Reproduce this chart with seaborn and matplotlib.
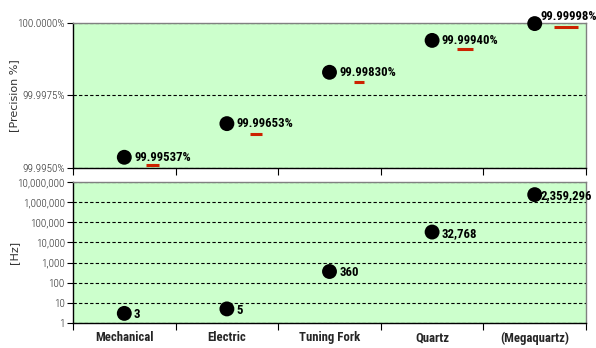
import matplotlib
matplotlib.use("Agg")
import matplotlib.pyplot as plt
import matplotlib.transforms as mtransforms
from matplotlib.ticker import FixedLocator, FuncFormatter
import seaborn as sns
import pandas as pd

sns.set_theme(style="white")
plt.rcParams["font.family"] = ["Roboto Condensed", "DejaVu Sans"]

categories = ["Mechanical", "Electric", "Tuning Fork", "Quartz", "(Megaquartz)"]
precision = [99.99537, 99.99653, 99.99830, 99.99940, 99.99998]
precision_labels = ["99.99537%", "99.99653%", "99.99830%", "99.99940%", "99.99998%"]
frequency = [3, 5, 360, 32768, 2359296]
frequency_labels = ["3", "5", "360", "32,768", "2,359,296"]
prec_ticks = [99.9950, 99.9975, 100.0000]
prec_tick_labels = ["99.9950%", "99.9975%", "100.0000%"]
hz_ticks = [1, 10, 100, 1000, 10000, 100000, 1000000, 10000000]
hz_tick_labels = ["1", "10", "100", "1,000", "10,000", "100,000", "1,000,000", "10,000,000"]

df = pd.DataFrame({"cat": categories, "prec": precision, "hz": frequency})

fig = plt.figure(figsize=(5.96, 3.48), dpi=100)
fig.patch.set_facecolor("white")
ax1 = fig.add_axes([73/596, 1-168/348, 513/596, 145/348])
ax2 = fig.add_axes([73/596, 1-323/348, 513/596, 141/348])

bg = "#CCFFCC"
n = len(categories)
for ax in (ax1, ax2):
    ax.set_facecolor(bg)
    ax.set_xlim(-0.5, n - 0.5)
    for s in ["left", "bottom"]:
        ax.spines[s].set_color("black")
        ax.spines[s].set_linewidth(1.0)
    for s in ["top", "right"]:
        ax.spines[s].set_color("#808080")
        ax.spines[s].set_linewidth(1.0)
    ax.xaxis.set_minor_locator(FixedLocator([i - 0.5 for i in range(n + 1)]))
    ax.tick_params(axis="x", which="minor", length=5, width=0.8, color="black", direction="out", bottom=True)
    ax.tick_params(axis="x", which="major", length=0)
    ax.tick_params(axis="y", which="major", length=4, width=0.8, color="black", direction="out", left=True,
                   labelsize=8, labelcolor="#2a2a2a", pad=2)
    ax.tick_params(axis="y", which="minor", length=0)

# top panel
sns.scatterplot(data=df, x="cat", y="prec", ax=ax1, color="black", s=115, edgecolor="none",
                clip_on=False, zorder=5, legend=False)
ax1.set_ylim(prec_ticks[0], prec_ticks[-1])
ax1.set_yticks(prec_ticks)
ax1.set_yticklabels(prec_tick_labels, fontweight=300)
ax1.yaxis.grid(True, linestyle=(0, (3, 2)), color="black", linewidth=0.8)
ax1.set_xticks(range(n))
ax1.set_xticklabels([])
ax1.set_xlabel("")
ax1.set_ylabel("[Precision %]", fontsize=8, labelpad=6, family=["DejaVu Sans"], color="#333333")

red_dx = [27.5, 29, 29, 33, 31]
red_dy = [-8, -10, -10, -9, -3]
red_len = [13, 12, 10, 16, 24]
for i, (v, lab) in enumerate(zip(precision, precision_labels)):
    if i == n - 1:
        ax1.annotate(lab, (i, v), xytext=(4, 5), textcoords="offset points", fontsize=9.2,
                     fontweight="bold", va="center", ha="left", annotation_clip=False, color="black")
    else:
        ax1.annotate(lab, (i, v), xytext=(7, 0), textcoords="offset points", fontsize=9.2,
                     fontweight="bold", va="center", ha="left", annotation_clip=False, color="black")
    tr = mtransforms.offset_copy(ax1.transData, fig=fig, x=red_dx[i] * 72 / 100, y=red_dy[i] * 72 / 100,
                                 units="points")
    ax1.plot([i], [v], marker="_", markersize=red_len[i] * 0.72, markeredgewidth=2.2,
             color="#CC2200", transform=tr, clip_on=False, zorder=6)

# bottom panel
sns.scatterplot(data=df, x="cat", y="hz", ax=ax2, color="black", s=115, edgecolor="none",
                clip_on=False, zorder=5, legend=False)
ax2.set_yscale("log")
ax2.set_ylim(hz_ticks[0], hz_ticks[-1])
ax2.yaxis.set_major_locator(FixedLocator(hz_ticks))
ax2.yaxis.set_major_formatter(FuncFormatter(lambda v, p: hz_tick_labels[hz_ticks.index(int(round(v)))]
                                            if int(round(v)) in hz_ticks else ""))
ax2.yaxis.set_minor_locator(FixedLocator([]))
ax2.yaxis.grid(True, linestyle=(0, (3, 2)), color="black", linewidth=0.8)
ax2.set_xticks(range(n))
ax2.set_xticklabels(categories, fontsize=9.2, fontweight="bold")
ax2.tick_params(axis="x", which="major", pad=6)
ax2.set_xlabel("")
ax2.set_ylabel("[Hz]", fontsize=8, labelpad=6, family=["DejaVu Sans"], color="#333333")
for i, (v, lab) in enumerate(zip(frequency, frequency_labels)):
    dx = 4.5 if i == n - 1 else 7
    ax2.annotate(lab, (i, v), xytext=(dx, -1), textcoords="offset points", fontsize=9.2,
                 fontweight="bold", va="center", ha="left", annotation_clip=False, color="black")

for t in ax1.get_yticklabels() + ax2.get_yticklabels():
    t.set_fontweight(300)

ax1.yaxis.set_label_coords(-0.105, 0.5)
ax2.yaxis.set_label_coords(-0.105, 0.5)

fig.savefig("out.png", dpi=100, facecolor="white")
